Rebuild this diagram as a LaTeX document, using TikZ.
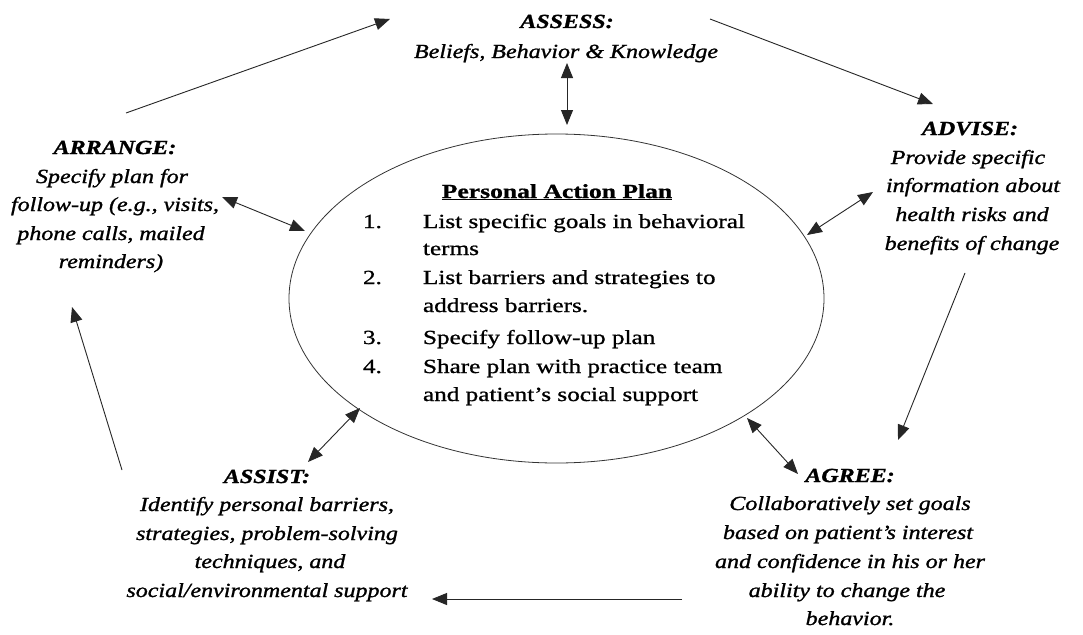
\documentclass[tikz,border=0pt]{standalone}
\usepackage{fontspec}
\setmainfont{Liberation Serif}[FakeStretch=1.2]
\newfontfamily\bodyfam{Liberation Serif}[FakeStretch=1.2, FakeBold=1.2]
\newfontfamily\headfam{Liberation Serif}[FakeStretch=1.2, FakeBold=1.2]
\newfontfamily\planfam{Liberation Serif}[FakeStretch=1.26, FakeBold=1.0]
\usetikzlibrary{arrows.meta,shapes.geometric}
\begin{document}
\begin{tikzpicture}[x=1pt,y=-1pt,
  every node/.style={inner sep=0pt, outer sep=0pt, text=black},
  hd/.style={font=\headfam\fontsize{20}{24}\selectfont\bfseries\itshape, anchor=base},
  bd/.style={font=\bodyfam\fontsize{20}{24}\selectfont\itshape, anchor=base},
  pl/.style={font=\planfam\fontsize{20}{24}\selectfont, anchor=base west},
  conn/.style={line width=0.9pt, draw=black!85, -{Triangle[length=15pt,width=12pt]}},
  dbl/.style={line width=0.9pt, draw=black!85, {Triangle[length=15pt,width=12pt]}-{Triangle[length=15pt,width=12pt]}},
]
\useasboundingbox[fill=white] (0,0) rectangle (1083,634);

% central ellipse
\node[draw=black!80, line width=0.8pt, ellipse, minimum width=535pt, minimum height=329pt] (plan) at (556.5,298.5) {};
\node[font=\planfam\fontsize{20}{24}\selectfont\bfseries, anchor=base] (planT) at (557,198) {\addfontfeatures{FakeStretch=1.28}\underline{Personal Action Plan}};
\node[pl] (n1) at (363,228) {1.};
\node[pl] (l1) at (423,228) {List specific goals in behavioral};
\node[pl] (l1b) at (423,255) {terms};
\node[pl] (n2) at (363,284) {2.};
\node[pl] (l2) at (423,284) {List barriers and strategies to};
\node[pl] (l2b) at (423,312) {address barriers.};
\node[pl] (n3) at (363,344) {3.};
\node[pl] (l3) at (423,344) {Specify follow-up plan};
\node[pl] (n4) at (363,373) {4.};
\node[pl] (l4) at (423,373) {Share plan with practice team};
\node[pl] (l4b) at (423,401) {and patient’s social support};

% ASSESS
\node[hd] (asT) at (567,28) {ASSESS:};
\node[bd] (as1) at (566,58) {Beliefs, Behavior \& Knowledge};

% ADVISE
\node[hd] (adT) at (970,135) {ADVISE:};
\node[bd] (ad1) at (968,164) {Provide specific};
\node[bd] (ad2) at (973,192) {information about};
\node[bd] (ad3) at (972,221) {health risks and};
\node[bd] (ad4) at (972,250) {benefits of change};

% ARRANGE
\node[hd] (arT) at (115,154) {ARRANGE:};
\node[bd] (ar1) at (112,183) {Specify plan for};
\node[bd] (ar2) at (115,211) {follow-up (e.g., visits,};
\node[bd] (ar3) at (111,240) {phone calls, mailed};
\node[bd] (ar4) at (111,268) {reminders)};

% ASSIST
\node[hd] (siT) at (267,483) {ASSIST:};
\node[bd] (si1) at (267,511) {Identify personal barriers,};
\node[bd] (si2) at (267,540) {strategies, problem-solving};
\node[bd] (si3) at (270,568) {techniques, and};
\node[bd] (si4) at (267,597) {social/environmental support};

% AGREE
\node[hd] (agT) at (850,482) {AGREE:};
\node[bd] (ag1) at (850,510) {Collaboratively set goals};
\node[bd] (ag2) at (848,539) {based on patient’s interest};
\node[bd] (ag3) at (850,568) {and confidence in his or her};
\node[bd] (ag4) at (847,597) {ability to change the};
\node[bd] (ag5) at (850,625) {behavior.};

% cycle connector end points
\coordinate (c1a) at (126,113);  \coordinate (c1b) at (390,19);
\coordinate (c2a) at (710,19);   \coordinate (c2b) at (933,104);
\coordinate (c3a) at (965,273);  \coordinate (c3b) at (898,440);
\coordinate (c4a) at (682,599);  \coordinate (c4b) at (432,599);
\coordinate (c5a) at (122,470);  \coordinate (c5b) at (72,307);

\draw[conn] (c1a) -- (c1b);
\draw[conn] (c2a) -- (c2b);
\draw[conn] (c3a) -- (c3b);
\draw[conn] (c4a) -- (c4b);
\draw[conn] (c5a) -- (c5b);

% double arrows to the plan
\coordinate (d1a) at (567,63);  \coordinate (d1b) at (567,125);
\coordinate (d2a) at (222,197); \coordinate (d2b) at (305,231);
\coordinate (d3a) at (873,192); \coordinate (d3b) at (807,235);
\coordinate (d4a) at (360,408); \coordinate (d4b) at (308,462);
\coordinate (d5a) at (747,418); \coordinate (d5b) at (798,474);

\draw[dbl] (d1a) -- (d1b);
\draw[dbl] (d2a) -- (d2b);
\draw[dbl] (d3a) -- (d3b);
\draw[dbl] (d4a) -- (d4b);
\draw[dbl] (d5a) -- (d5b);
\end{tikzpicture}
\end{document}
